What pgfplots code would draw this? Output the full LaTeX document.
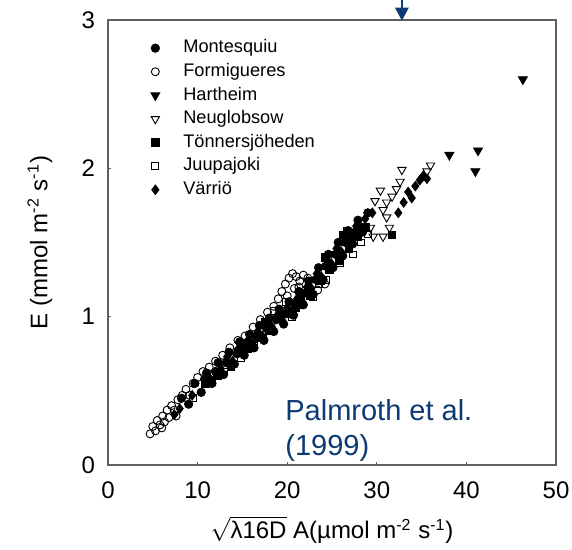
\documentclass[border=0pt]{standalone}
\usepackage{pgfplots}
\pgfplotsset{compat=1.18}
\usepackage{fontspec}
\setmainfont{Liberation Sans}
\usetikzlibrary{arrows.meta}
\definecolor{noteblue}{RGB}{14,58,115}
\definecolor{framegray}{RGB}{95,95,95}

\pgfplotsset{
  mont/.style={only marks, mark=*, mark size=2.1pt, draw=black, fill=black},
  form/.style={only marks, mark=o, mark size=2.0pt, draw=black, fill=white, line width=0.45pt},
  hart/.style={only marks, mark=triangle*, mark size=2.6pt, draw=black, fill=black, mark options={rotate=180}},
  neug/.style={only marks, mark=triangle, mark size=2.4pt, draw=black, fill=white, line width=0.45pt, mark options={rotate=180}},
  tonn/.style={only marks, mark=square*, mark size=1.9pt, draw=black, fill=black},
  juup/.style={only marks, mark=square, mark size=1.7pt, draw=black, fill=white, line width=0.45pt},
  varr/.style={only marks, mark=diamond*, mark size=2.4pt, draw=black, fill=black},
}

\begin{document}
\begin{tikzpicture}
\begin{axis}[
  scale only axis,
  width=224pt, height=222.5pt,
  xmin=0, xmax=50, ymin=0, ymax=3,
  xtick={0,10,20,30,40,50},
  ytick={0,1,2,3},
  tick pos=left,
  tick align=inside,
  major tick length=1.6pt,
  every tick/.style={draw=framegray, line width=0.6pt},
  axis line style={draw=framegray, line width=0.8pt},
  /pgf/number format/assume math mode=true,
  tick label style={font=\fontsize{12}{14}\selectfont},
  yticklabel style={xshift=-3pt},
  xticklabel style={yshift=-5pt},
  xlabel={\(\sqrt{\mbox{λ16D}}\) A(µmol m\textsuperscript{-2} s\textsuperscript{-1})},
  ylabel={E (mmol m\textsuperscript{-2} s\textsuperscript{-1})},
  label style={font=\fontsize{12}{14}\selectfont},
  x label style={at={(axis description cs:0.5,-0.146)}, anchor=center},
  y label style={at={(axis description cs:-0.152,0.5)}, anchor=center},
  clip=false,
  legend cell align=left,
  legend style={at={(axis description cs:0.078,0.961)}, anchor=north west,
    draw=none, fill=none, inner sep=0pt, row sep=1.4pt,
    nodes={font=\fontsize{9.1}{10}\selectfont, inner sep=1pt,
      text height=6.6pt, text depth=1.8pt}},
  legend image code/.code={\path[draw=none, fill=none] (-6pt,0pt) -- (13pt,0pt);
    \draw[#1] plot coordinates {(0pt,0pt)};},
]

% legend entries, in the order of the key
\addlegendimage{mont}\addlegendentry{Montesquiu}
\addlegendimage{form}\addlegendentry{Formigueres}
\addlegendimage{hart}\addlegendentry{Hartheim}
\addlegendimage{neug}\addlegendentry{Neuglobsow}
\addlegendimage{tonn}\addlegendentry{Tönnersjöheden}
\addlegendimage{juup}\addlegendentry{Juupajoki}
\addlegendimage{varr}\addlegendentry{Värriö}

% Juupajoki
\addplot[juup, forget plot] coordinates {
(9.5,0.45)(11.6,0.56)(13.0,0.63)(14.8,0.72)(16.3,0.80)(17.3,0.86)(18.5,1.04)(19.9,1.10)
(21.6,1.08)(22.9,1.13)(24.3,1.25)(25.9,1.36)(26.7,1.58)(27.3,1.42)(28.2,1.50)(29.0,1.56)
(17.9,0.90)(20.5,1.00)(23.5,1.22)(15.6,0.78)
};

% Montesquiu
\addplot[mont, forget plot] coordinates {
(8.2,0.45)(9.0,0.41)(9.7,0.55)(10.4,0.49)(11.0,0.62)(11.6,0.55)(12.3,0.69)(12.9,0.61)
(13.5,0.76)(14.1,0.68)(14.7,0.83)(15.2,0.74)(15.8,0.88)(16.3,0.79)(16.9,0.94)(17.4,0.84)
(18.0,0.99)(18.5,0.90)(19.1,1.05)(19.6,0.95)(20.2,1.10)(20.7,1.01)(21.3,1.17)(21.8,1.08)
(22.4,1.24)(22.9,1.15)(23.5,1.33)(24.0,1.25)(24.6,1.42)(25.1,1.33)(25.7,1.50)(26.2,1.41)
(26.8,1.58)(27.3,1.49)(27.9,1.65)(28.4,1.57)(29.0,1.70)
(12.0,0.63)(14.4,0.75)(16.6,0.87)(18.8,0.98)(21.0,1.09)(23.2,1.25)(25.4,1.42)(27.6,1.57)
(15.5,0.81)(19.9,1.02)(24.3,1.34)(26.5,1.50)(22.1,1.16)(17.7,0.92)(13.2,0.69)
};

% Varrio
\addplot[varr, forget plot] coordinates {
(7.4,0.34)(8.0,0.38)(9.4,0.47)(10.7,0.58)(11.3,0.59)(12.6,0.65)(13.3,0.73)(13.9,0.70)
(14.5,0.78)(15.0,0.77)(15.6,0.84)(16.1,0.82)(16.7,0.90)(17.2,0.87)(17.9,0.95)(18.3,0.93)
(18.9,1.01)(19.4,0.98)(20.0,1.06)(20.5,1.04)(21.1,1.12)(21.6,1.11)(22.2,1.20)(22.7,1.19)
(23.3,1.29)(23.8,1.27)(24.4,1.38)(24.9,1.36)(25.5,1.46)(26.0,1.44)(26.6,1.54)(27.1,1.53)
(27.7,1.61)(28.2,1.60)(28.7,1.66)(29.5,1.70)(32.4,1.70)(33.0,1.77)(33.5,1.84)(33.9,1.80)
(34.3,1.88)(34.8,1.92)(35.2,1.95)(35.6,1.93)
};

% Tonnersjoheden
\addplot[tonn, forget plot] coordinates {
(10.9,0.55)(12.2,0.60)(13.7,0.66)(14.9,0.79)(15.9,0.79)(16.9,0.86)(18.1,0.91)(19.3,1.00)
(20.4,1.02)(21.5,1.14)(22.6,1.14)(23.7,1.24)(24.7,1.32)(25.8,1.38)(26.9,1.46)(27.9,1.54)
(28.8,1.60)(31.7,1.55)(17.5,0.96)(20.9,1.06)(24.2,1.40)(26.3,1.55)
};

% Formigueres
\addplot[form, forget plot] coordinates {
(4.7,0.21)(5.0,0.26)(5.3,0.23)(5.5,0.30)(5.8,0.27)(6.1,0.33)(6.3,0.29)(6.6,0.37)
(6.8,0.32)(7.1,0.40)(7.4,0.37)(7.8,0.44)(8.3,0.47)(8.7,0.51)(9.1,0.47)(9.5,0.55)
(10.0,0.59)(10.6,0.63)(11.3,0.66)(12.0,0.70)(12.8,0.74)(13.6,0.79)(14.5,0.84)(15.3,0.87)
(16.2,0.93)(17.0,0.98)(17.8,1.03)(18.5,1.07)(19.0,1.12)(19.4,1.17)(19.8,1.22)(20.2,1.26)
(20.6,1.29)(21.0,1.27)(21.4,1.24)(21.8,1.28)(20.0,1.14)(20.8,1.19)(21.3,1.20)(22.3,1.26)
(22.8,1.22)(23.4,1.18)(24.2,1.22)(18.2,0.95)(16.0,0.83)(6.0,0.25)(7.6,0.33)
};

% Neuglobsow
\addplot[neug, forget plot] coordinates {
(29.3,1.60)(29.6,1.54)(30.7,1.54)(30.7,1.72)(31.1,1.67)(31.1,1.77)(31.7,1.81)(30.4,1.85)
(32.6,1.91)(32.8,1.99)(35.6,1.98)(36.0,2.02)(29.8,1.78)(32.2,1.86)(31.4,1.60)
};

% Hartheim
\addplot[hart, forget plot] coordinates {
(38.1,2.09)(41.3,2.12)(41.0,1.98)(46.3,2.60)
};

% source note and pointer
\node[anchor=base west, text=noteblue, font=\fontsize{14.5}{17}\selectfont, inner sep=0pt]
  at (axis cs:19.75,0.297) {Palmroth et al.};
\node[anchor=base west, text=noteblue, font=\fontsize{14.5}{17}\selectfont, inner sep=0pt]
  at (axis cs:19.75,0.067) {(1999)};
\draw[noteblue, line width=1.3pt, -{Triangle[width=6.5pt,length=6.5pt]}]
  (axis cs:32.8,3.135) -- (axis cs:32.8,2.995);
\end{axis}
\path (current axis.south west) ++(-54pt,-42.5pt) coordinate (bl);
\path (current axis.north east) ++(8pt,10pt) coordinate (tr);
\pgfresetboundingbox
\path (bl) rectangle (tr);
\end{tikzpicture}
\end{document}
